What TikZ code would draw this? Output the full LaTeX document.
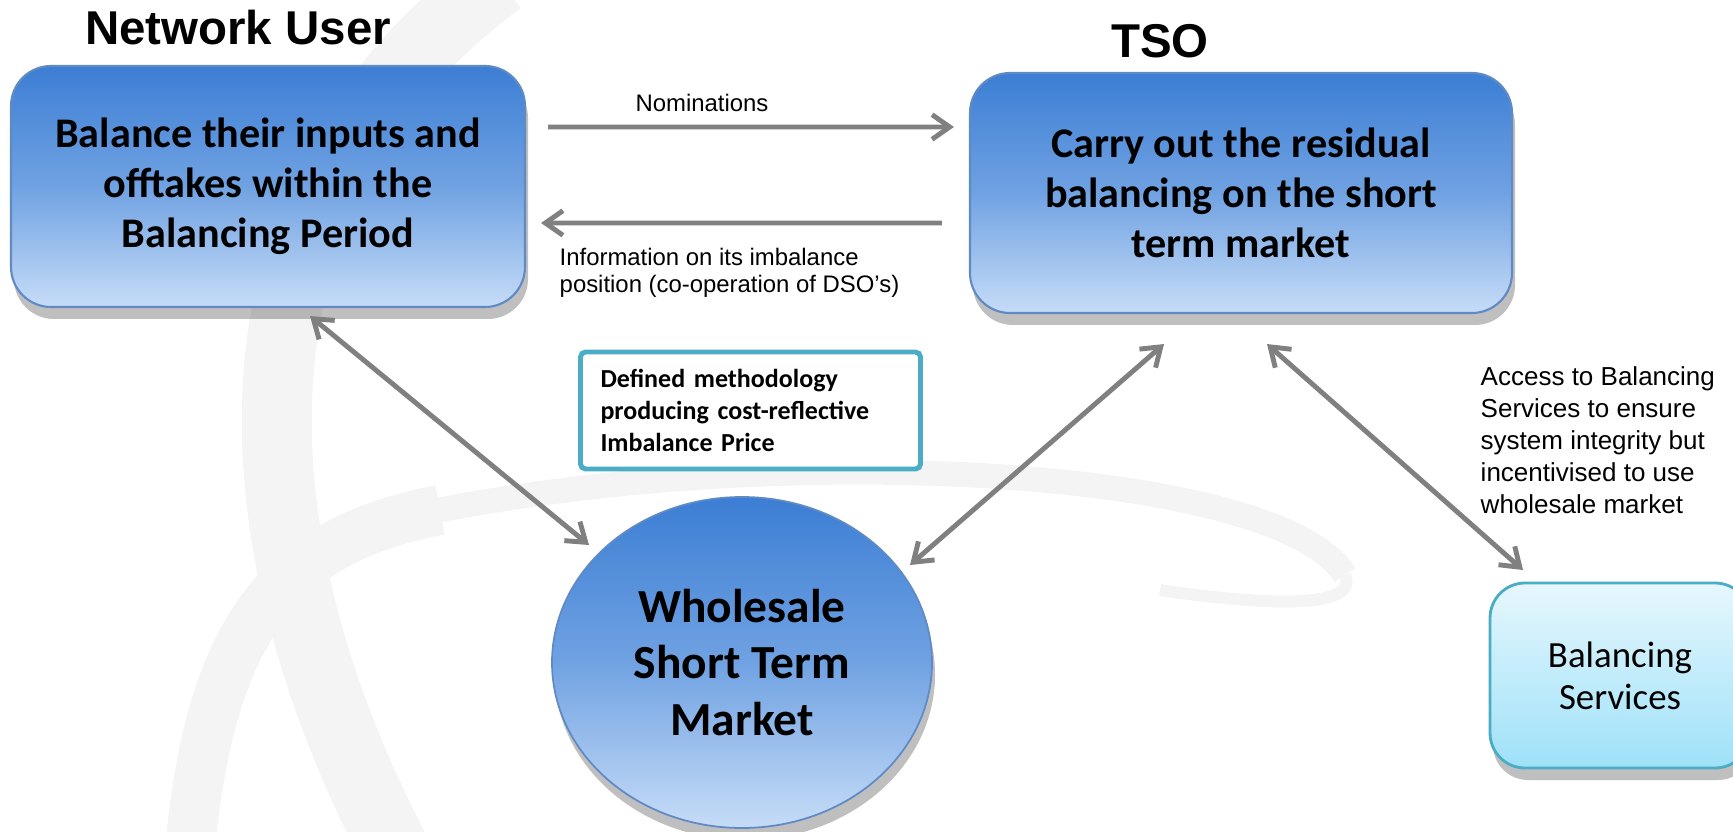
\documentclass[tikz,border=0pt]{standalone}
\usepackage{fontspec}
\setmainfont{Carlito}
\newfontfamily\arialfont{Liberation Sans}
\usetikzlibrary{positioning}
\usetikzlibrary{shapes.geometric}
\usetikzlibrary{shadows}
\usetikzlibrary{arrows.meta}

\definecolor{boxtop}{RGB}{60,126,212}
\definecolor{boxmid}{RGB}{112,162,226}
\definecolor{boxbot}{RGB}{198,220,247}
\definecolor{boxedge}{RGB}{96,138,196}
\definecolor{tealedge}{RGB}{75,172,198}
\definecolor{servtop}{RGB}{230,247,253}
\definecolor{servbot}{RGB}{158,225,248}
\definecolor{arrowgray}{RGB}{128,128,128}
\definecolor{swooshgray}{RGB}{244,244,244}

\tikzset{
	softshadow/.style={drop shadow={shadow xshift=0.3mm,shadow yshift=-1.2mm,opacity=0.25,fill=black}},
	bluebox/.style={rounded corners=4mm,draw=boxedge,line width=0.6pt,top color=boxtop,bottom color=boxbot,middle color=boxmid,align=center,font=\fontsize{12}{14.2}\selectfont\bfseries,softshadow},
	marketball/.style={ellipse,inner sep=0,minimum width=3.8cm,minimum height=3.31cm,draw=boxedge,line width=0.5pt,top color=boxtop,bottom color=boxbot,middle color=boxmid,align=center,font=\fontsize{13.5}{16.2}\selectfont\bfseries,softshadow},
	methodbox/.style={draw=tealedge,line width=1.4pt,fill=white,rounded corners=0.5mm,text width=3.0cm,inner xsep=2mm,minimum height=1.17cm,align=left,font=\fontsize{7.4}{9.1}\selectfont\bfseries},
	servbox/.style={rounded corners=3.5mm,draw=tealedge,line width=0.8pt,top color=servtop,bottom color=servbot,minimum width=2.6cm,minimum height=1.85cm,align=center,font=\fontsize{10.5}{12}\selectfont,softshadow},
	title/.style={inner sep=0,font=\arialfont\bfseries\fontsize{13.5}{16}\selectfont},
	smalllabel/.style={inner sep=0,font=\arialfont\fontsize{6.8}{7.7}\selectfont},
	note/.style={inner sep=0,align=left,font=\arialfont\fontsize{7.4}{9.1}\selectfont},
	flow/.style={draw=arrowgray,line width=1.4pt,-{Straight Barb[length=5pt,width=7pt]}},
	dflow/.style={draw=arrowgray,line width=1.4pt,{Straight Barb[length=5pt,width=7pt]}-{Straight Barb[length=5pt,width=7pt]}},
	swoosh/.style={draw=swooshgray}
}

\begin{document}
\begin{tikzpicture}
	\useasboundingbox (0,0) rectangle (17.33,-8.32);
	% faint logo behind the diagram
	\draw[swoosh,line width=7mm] (5.0,0.2) .. controls (2.0,-2.0) and (2.4,-5.6) .. (4.0,-8.6);
	\draw[swoosh,line width=5mm] (1.9,-8.5) .. controls (2.1,-6.3) and (2.8,-5.4) .. (4.4,-5.1);
	\draw[swoosh,line width=2.5mm] (4.4,-5.1) .. controls (8.0,-4.4) and (12.8,-4.7) .. (13.45,-5.75);
	\draw[swoosh,line width=1.2mm] (13.45,-5.75) .. controls (13.6,-6.1) and (12.6,-6.05) .. (11.6,-5.9);

	\node[title,anchor=base] (nutitle) at (2.38,-0.45) {Network User};
	\node[title,anchor=base] (tsotitle) at (11.6,-0.58) {TSO};
	\node[bluebox,minimum width=5.14cm,minimum height=2.41cm] (nu) at (2.68,-1.865) {Balance their inputs and\\offtakes within the\\Balancing Period};
	\node[bluebox,minimum width=5.42cm,minimum height=2.40cm] (tso) at (12.41,-1.93) {Carry out the residual\\balancing on the short\\term market};
	\node[methodbox] (method) at (7.505,-4.105) {Defined methodology\\producing cost-reflective\\Imbalance Price};
	\node[marketball] (wsm) at (7.42,-6.625) {Wholesale\\Short Term\\Market};
	\node[servbox] (serv) at (16.2,-6.755) {Balancing\\Services};

	\node[smalllabel,anchor=base] (nomlabel) at (7.02,-1.12) {Nominations};
	\node[smalllabel,anchor=north west,align=left] (infolabel) at (5.59,-2.47) {Information on its imbalance\\position (co-operation of DSO’s)};
	\node[note,anchor=north west] (accessnote) at (14.80,-3.66) {Access to Balancing\\Services to ensure\\system integrity but\\incentivised to use\\wholesale market};

	\draw[flow] ([xshift=2.2mm,yshift=5.95mm]nu.east) -- ([xshift=-1.5mm,yshift=6.6mm]tso.west);
	\draw[flow] ([xshift=-2.7mm,yshift=-3mm]tso.west) -- ([xshift=1.5mm,yshift=-3.65mm]nu.east);
	\draw[dflow] ([xshift=4.2mm,yshift=-0.8mm]nu.south) -- ([xshift=-15.3mm,yshift=11.75mm]wsm.center);
	\draw[dflow] ([xshift=-7.7mm,yshift=-3mm]tso.south) -- ([xshift=16.8mm,yshift=9.75mm]wsm.center);
	\draw[dflow] ([xshift=2.6mm,yshift=-3mm]tso.south) -- ([xshift=-9.7mm,yshift=10.55mm]serv.center);
\end{tikzpicture}
\end{document}
